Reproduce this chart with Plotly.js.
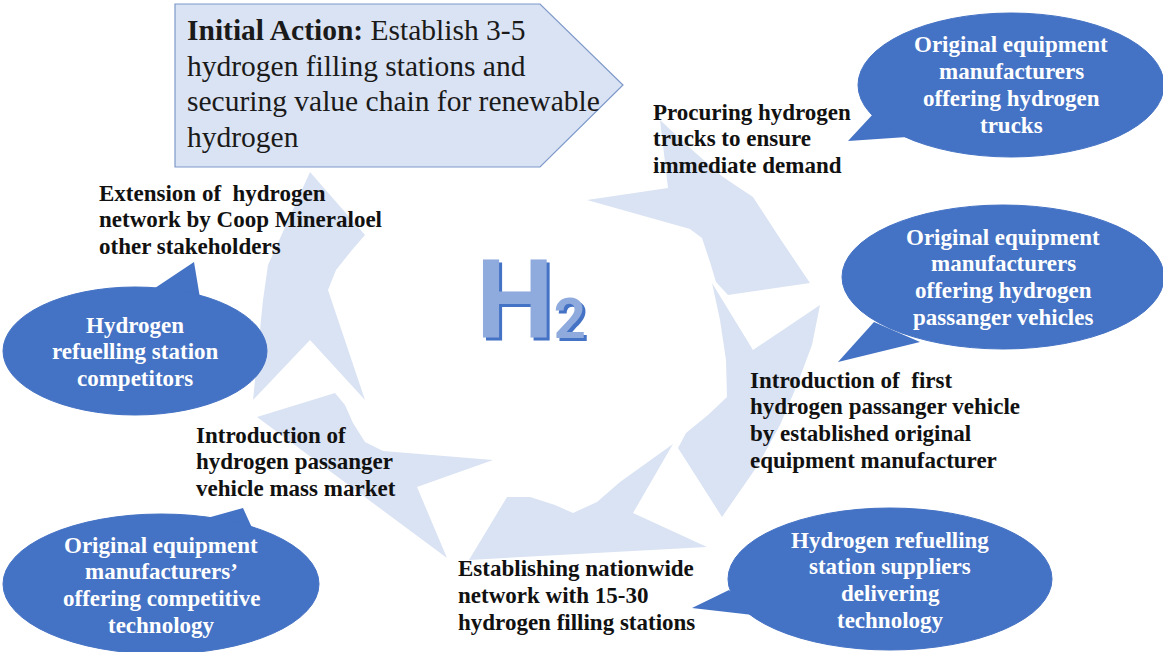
<!DOCTYPE html>
<html>
<head>
<meta charset="utf-8">
<script src="https://cdn.plot.ly/plotly-3.0.1.min.js"></script>
<style>
html,body{margin:0;padding:0;background:#fff;}
#chart{width:1163px;height:652px;}
</style>
</head>
<body>
<div id="chart"></div>
<script>
// ---- Text content ----
const initialActionLines = ["<b>Initial Action:</b> Establish 3-5", "hydrogen filling stations and", "securing value chain for renewable", "hydrogen"];
const procuringLines = ["Procuring hydrogen", "trucks to ensure", "immediate demand"];
const extensionLines = ["Extension of\u00a0 hydrogen", "network by Coop Mineraloel", "other stakeholders"];
const firstVehicleLines = ["Introduction of\u00a0 first", "hydrogen passanger vehicle", "by established original", "equipment manufacturer"];
const massMarketLines = ["Introduction of", "hydrogen passanger", "vehicle mass market"];
const networkLines = ["Establishing nationwide", "network with 15-30", "hydrogen filling stations"];
const truckOemLines = ["Original equipment", "manufacturers", "offering hydrogen", "trucks"];
const carOemLines = ["Original equipment", "manufacturers", "offering hydrogen", "passanger vehicles"];
const stationSupplierLines = ["Hydrogen refuelling", "station suppliers", "delivering", "technology"];
const stationCompetitorLines = ["Hydrogen", "refuelling station", "competitors"];
const competitiveOemLines = ["Original equipment", "manufacturers\u2019", "offering competitive", "technology"];
const logoLetter = "H";
const logoIndex = "2";

// ---- Styling / layout ----
const ARROW_FILL = "#DAE3F3";
const BUBBLE_FILL = "#4472C4";
const SERIF = "Liberation Serif";

function poly(pts){
  return "M" + pts.map(p => p[0] + "," + p[1]).join(" L") + " Z";
}

const arrowGeom = [
  [[660,120],[690,148],[723,177],[753,197],[781,240],[810,283],[728,295],[716,282],[710,262],[702,238],[690,229],[587,200],[668,188]],
  [[712,283],[753,350],[820,305],[812,345],[797,385],[780,425],[758,465],[722,517],[678,448],[686,433],[708,415],[727,397],[726,360],[720,320]],
  [[469,560],[507,497],[530,497],[555,505],[573,513],[597,502],[620,482],[673,444],[633,513],[707,547]],
  [[257,417],[335,393],[345,405],[353,423],[365,442],[383,451],[493,460],[417,487],[447,558]],
  [[310,172],[365,235],[352,250],[336,270],[328,290],[365,400],[310,340],[253,400],[259,340],[263,300],[268,265]]
];

const bubbleGeom = [
  {cx:1011, cy:85, rx:153, ry:72, tail:[[874,113],[848,141],[907,137]], lines:truckOemLines, y0:44, gap:27},
  {cx:1003, cy:277, rx:161, ry:72, tail:[[874,322],[838,362],[920,342]], lines:carOemLines, y0:237, gap:26.7},
  {cx:890, cy:579, rx:162, ry:71, tail:[[729,590],[692,608],[753,615]], lines:stationSupplierLines, y0:540, gap:26.7},
  {cx:135, cy:351, rx:132, ry:64, tail:[[152,290],[194,262],[200,298]], lines:stationCompetitorLines, y0:325, gap:26.5},
  {cx:161, cy:584, rx:158, ry:70, tail:[[200,520],[243,508],[253,530]], lines:competitiveOemLines, y0:545, gap:26.7}
];

const blackBlocks = [
  {x:651, y0:112, gap:26.5, lines:procuringLines},
  {x:97, y0:193, gap:26.8, lines:extensionLines},
  {x:748, y0:380, gap:26.7, lines:firstVehicleLines},
  {x:194, y0:435, gap:26.5, lines:massMarketLines},
  {x:456, y0:568, gap:27, lines:networkLines}
];

const shapes = [];
arrowGeom.forEach(g => shapes.push({type:"path", xref:"x", yref:"y", path:poly(g), fillcolor:ARROW_FILL, line:{width:0}}));

// initial action pentagon
shapes.push({type:"path", xref:"x", yref:"y", path:poly([[175,4],[540,4],[623,85],[540,167],[175,167]]), fillcolor:"#DAE3F3", line:{color:"#7D98C9", width:1.2}});

// bubbles
bubbleGeom.forEach(b => {
  shapes.push({type:"path", xref:"x", yref:"y", path:poly(b.tail), fillcolor:BUBBLE_FILL, line:{width:0}});
  shapes.push({type:"circle", xref:"x", yref:"y", x0:b.cx-b.rx, x1:b.cx+b.rx, y0:b.cy-b.ry, y1:b.cy+b.ry, fillcolor:BUBBLE_FILL, line:{color:"#4472C4", width:1}});
});

const annotations = [];
initialActionLines.forEach((t,i) => annotations.push({x:185, y:30 + i*35.5, xref:"x", yref:"y", text:t, showarrow:false, xanchor:"left", yanchor:"middle", font:{family:SERIF, size:29.5, color:"#1a1a1a"}}));
blackBlocks.forEach(b => b.lines.forEach((t,i) => annotations.push({x:b.x, y:b.y0 + i*b.gap, xref:"x", yref:"y", text:"<b>"+t+"</b>", showarrow:false, xanchor:"left", yanchor:"middle", font:{family:SERIF, size:23, color:"#111"}})));
bubbleGeom.forEach(b => b.lines.forEach((t,i) => annotations.push({x:b.cx, y:b.y0 + i*b.gap, xref:"x", yref:"y", text:"<b>"+t+"</b>", showarrow:false, xanchor:"center", yanchor:"middle", font:{family:SERIF, size:23, color:"#ffffff"}})));

// H2 logo as real text
annotations.push({x:531, y:300, xref:"x", yref:"y",
  text:"<b>"+logoLetter+"<span style='font-size:56px'>"+logoIndex+"</span></b>",
  showarrow:false, xanchor:"center", yanchor:"middle",
  font:{family:"Roboto", size:110, color:"#8FAADC", shadow:"3px 3px 0px #4472C4"}});

const layout = {
  width:1163, height:652,
  margin:{l:0, r:0, t:0, b:0, pad:0},
  paper_bgcolor:"#ffffff", plot_bgcolor:"#ffffff",
  xaxis:{range:[0,1163], visible:false, fixedrange:true},
  yaxis:{range:[652,0], visible:false, fixedrange:true},
  showlegend:false,
  shapes:shapes,
  annotations:annotations
};

Plotly.newPlot("chart", [{x:[], y:[], type:"scatter", mode:"markers", hoverinfo:"skip"}], layout, {staticPlot:true, displayModeBar:false});
</script>
</body>
</html>
